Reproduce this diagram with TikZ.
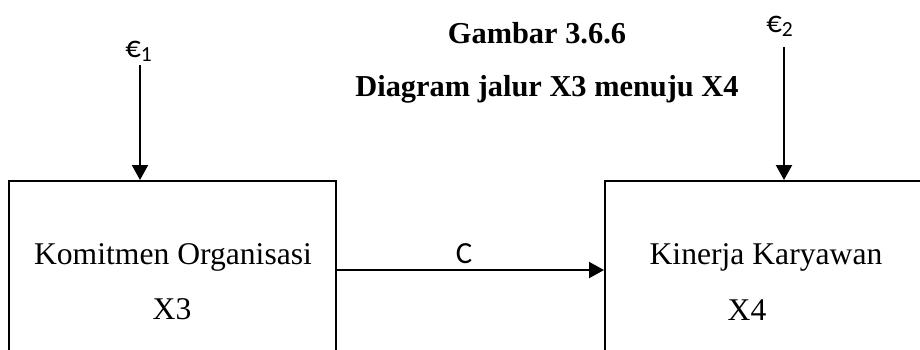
\documentclass[tikz,border=0pt]{standalone}
\usepackage{fontspec}
\setmainfont{Liberation Serif}
\newfontfamily\calibfont{Carlito}
\usetikzlibrary{arrows.meta}
\tikzset{
  varbox/.style={rectangle, draw=black, line width=1.2pt, minimum height=3.56cm, anchor=north west, inner sep=0pt},
  boxtext/.style={anchor=base, font=\fontsize{18}{22}\selectfont},
  titletext/.style={anchor=base, font=\fontsize{17.3}{21}\selectfont\bfseries},
  errtext/.style={anchor=base, font=\calibfont\fontsize{17.5}{20}\selectfont},
  arrow/.style={-{Triangle[length=3mm,width=3.2mm]}, line width=1.2pt}
}

\begin{document}
\begin{tikzpicture}[x=0.02cm, y=-0.02cm]
  \path[use as bounding box, clip] (0,0) rectangle (920,349);
  % title
  \node[titletext] (title) at (537,43) {Gambar 3.6.6};
  \node[titletext] (subtitle) at (547,96) {Diagram jalur X3 menuju X4};
  % the two variables
  \node[varbox, minimum width=6.54cm] (x3box) at (8,180) {};
  \node[varbox, minimum width=7.2cm] (x4box) at (604,180) {};
  \node[boxtext] (x3name) at (173,264) {Komitmen Organisasi};
  \node[boxtext] (x3) at (172,319) {X3};
  \node[boxtext] (x4name) at (766,264) {Kinerja Karyawan};
  \node[boxtext] (x4) at (747,320) {X4};
  % path coefficient
  \draw[arrow] (x3box) -- (x4box);
  \node[errtext] (c) at (464,263) {C};
  % error terms
  \node[errtext] (e1) at (139,57) {€\textsubscript{1}};
  \node[errtext] (e2) at (780,32) {€\textsubscript{2}};
  \coordinate (e1top) at (140,65);
  \coordinate (e2top) at (784,47);
  \draw[arrow] (e1top) -- (e1top |- x3box.north);
  \draw[arrow] (e2top) -- (e2top |- x4box.north);
\end{tikzpicture}
\end{document}
